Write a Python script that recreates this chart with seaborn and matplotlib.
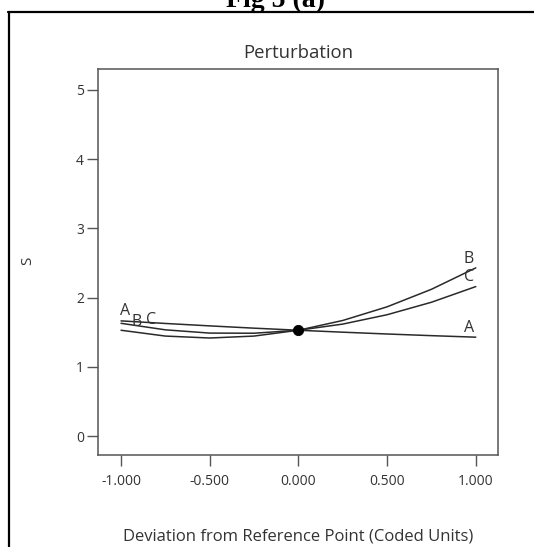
import pandas as pd
import matplotlib
matplotlib.use("Agg")
import matplotlib.pyplot as plt
from matplotlib.lines import Line2D
from matplotlib.ticker import FormatStrFormatter
import seaborn as sns

##### Data

deviation = [-1.0, -0.75, -0.5, -0.25, 0.0, 0.25, 0.5, 0.75, 1.0]
s_a = [1.665, 1.628, 1.593, 1.560, 1.53, 1.502, 1.476, 1.452, 1.43]
s_b = [1.53, 1.446, 1.418, 1.446, 1.53, 1.671, 1.868, 2.121, 2.43]
s_c = [1.63, 1.536, 1.489, 1.487, 1.53, 1.619, 1.754, 1.934, 2.16]
factors = ["A", "B", "C"]
ref_point = [0.0]
ref_value = [1.53]

yticks = [0, 1, 2, 3, 4, 5]
xticks = [-1.0, -0.5, 0.0, 0.5, 1.0]

# where the factor letters sit near the curve ends
left_label_x = [-0.975, -0.91, -0.83]
left_label_dy = [0.14, 0.12, 0.05]
right_label_x = [0.96, 0.96, 0.96]
right_label_dy = [0.13, 0.13, 0.14]

df = pd.DataFrame({
    "x": deviation * 3,
    "S": s_a + s_b + s_c,
    "factor": [f for f in factors for _ in deviation],
})

##### Plot

sns.set_theme(style="white")
plt.rcParams["font.family"] = ["Open Sans", "DejaVu Sans"]
text_col = "#333333"

fig = plt.figure(figsize=(5.34, 5.47), dpi=100)
ax = fig.add_axes([0.1835, 0.1682, 0.749, 0.7057])

sns.lineplot(data=df, x="x", y="S", hue="factor", palette=["#2a2a2a"] * 3,
             linewidth=1.1, legend=False, ax=ax)
sns.scatterplot(x=ref_point, y=ref_value, color="black", s=55, zorder=5,
                edgecolor="black", ax=ax)

series = {"A": s_a, "B": s_b, "C": s_c}
for i, f in enumerate(factors):
    vals = series[f]
    ax.text(left_label_x[i], vals[0] + left_label_dy[i], f, fontsize=11.5,
            color=text_col, ha="center", va="center")
    ax.text(right_label_x[i], vals[-1] + right_label_dy[i], f, fontsize=11.5,
            color=text_col, ha="center", va="center")

ax.set_xlim(-1.13, 1.125)
ax.set_ylim(-0.27, 5.3)
ax.set_xticks(xticks)
ax.set_yticks(yticks)
ax.xaxis.set_major_formatter(FormatStrFormatter("%.3f"))
ax.tick_params(axis="both", direction="out", length=8, width=1, color="#555555",
               labelsize=10, labelcolor=text_col, bottom=True, left=True)
ax.tick_params(axis="x", pad=6)
ax.tick_params(axis="y", pad=2)
for sp in ax.spines.values():
    sp.set_color("#555555")
    sp.set_linewidth(1.1)

ax.set_title("Perturbation", fontsize=13.3, color=text_col,
             y=(455 - 53) / 386, pad=0, va="center")
ax.set_xlabel("Deviation from Reference Point (Coded Units)", fontsize=12,
              color=text_col)
ax.xaxis.set_label_coords(0.5, -0.212)
ax.xaxis.label.set_va("center")
ax.set_ylabel("S", fontsize=11, color=text_col)
ax.yaxis.set_label_coords(-0.175, 0.503)
ax.yaxis.label.set_va("center")

# outer frame and cut-off figure caption
fig.add_artist(Line2D([8 / 534, 1.0], [1 - 12 / 547, 1 - 12 / 547],
                      color="black", linewidth=1.6, transform=fig.transFigure))
fig.add_artist(Line2D([9 / 534, 9 / 534], [0.0, 1 - 12 / 547],
                      color="black", linewidth=1.6, transform=fig.transFigure))
fig.text(275 / 534, 1 - 7 / 547, "Fig 5 (a)", family="Liberation Serif",
         fontweight="bold", fontsize=20, ha="center", va="baseline", color="black")

fig.savefig("out.png", dpi=100)
